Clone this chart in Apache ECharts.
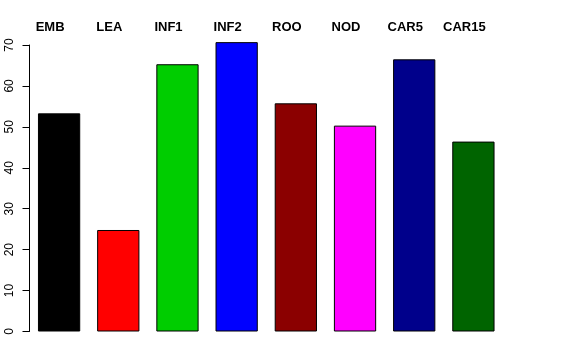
<!DOCTYPE html>
<html>
<head>
<meta charset="utf-8">
<script src="https://cdn.jsdelivr.net/npm/echarts@6/dist/echarts.min.js"></script>
<style>
html,body{margin:0;padding:0;background:#fff;}
#chart{width:576px;height:360px;}
</style>
</head>
<body>
<div id="chart"></div>
<script>
const categories = ["EMB", "LEA", "INF1", "INF2", "ROO", "NOD", "CAR5", "CAR15"];
const values = [53.3, 24.8, 65.3, 70.7, 55.75, 50.3, 66.5, 46.4];
const barColors = ["#000000", "#FF0000", "#00CD00", "#0000FF", "#8B0000", "#FF00FF", "#00008B", "#006400"];

const chart = echarts.init(document.getElementById('chart'), null, {renderer: 'canvas'});
chart.setOption({
  animation: false,
  backgroundColor: '#ffffff',
  textStyle: {fontFamily: 'Liberation Sans, Arial, sans-serif'},
  grid: {left: 29.5, top: 45, width: 473.5, height: 286.5, containLabel: false},
  xAxis: {
    type: 'category',
    position: 'top',
    data: categories,
    axisLine: {show: false},
    axisTick: {show: false},
    axisLabel: {
      show: true,
      margin: 11,
      fontSize: 13,
      fontWeight: 'bold',
      color: '#000',
      fontFamily: 'Liberation Sans, Arial, sans-serif',
      padding: [0, 18, 0, 0],
      interval: 0
    }
  },
  yAxis: {
    type: 'value',
    min: 0,
    max: 70,
    interval: 10,
    splitLine: {show: false},
    axisLine: {show: true, lineStyle: {color: '#000', width: 1}},
    axisTick: {show: true, inside: false, length: 7, lineStyle: {color: '#000', width: 1}},
    axisLabel: {
      show: true,
      rotate: 90,
      margin: 14,
      fontSize: 12,
      color: '#000',
      fontFamily: 'Liberation Sans, Arial, sans-serif'
    }
  },
  series: [{
    type: 'bar',
    clip: false,
    barWidth: '71.4%',
    data: values.map((v, i) => ({value: v, itemStyle: {color: barColors[i]}})),
    itemStyle: {borderColor: '#000', borderWidth: 1}
  }]
});
</script>
</body>
</html>
